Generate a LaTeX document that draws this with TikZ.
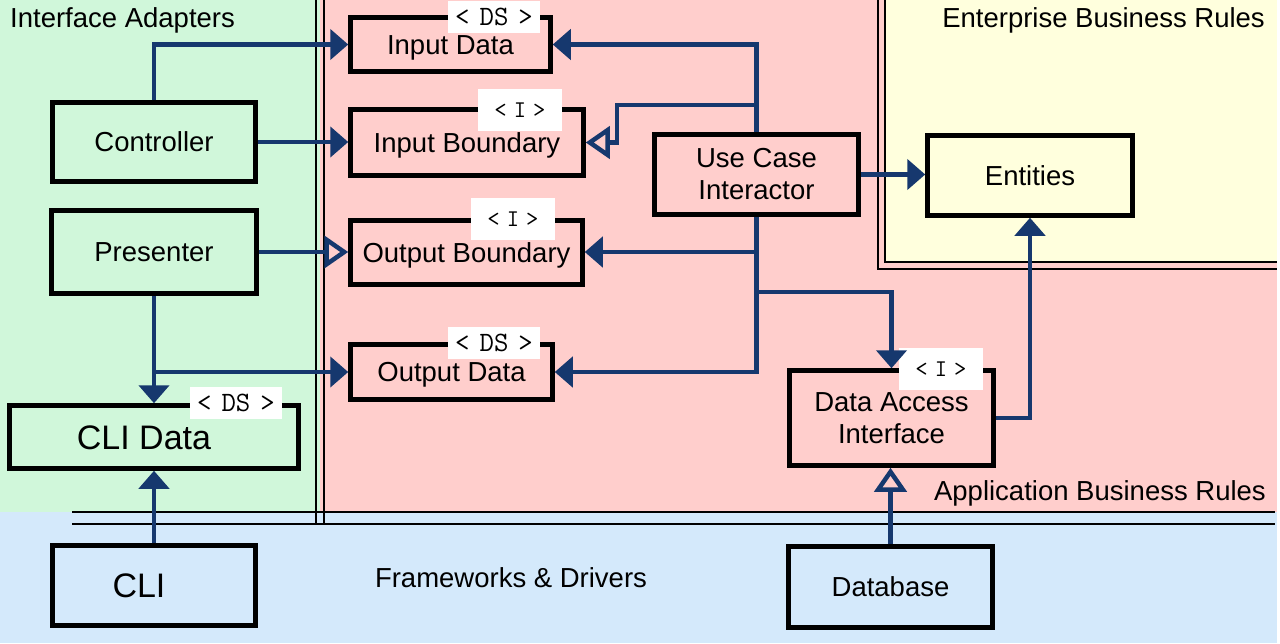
\documentclass[tikz,border=0pt]{standalone}
\usepackage{fontspec}
\setmainfont{Liberation Sans}
\usetikzlibrary{arrows.meta}
\definecolor{bggreen}{RGB}{208,247,218}
\definecolor{bgpink}{RGB}{255,206,204}
\definecolor{bgyellow}{RGB}{255,255,221}
\definecolor{bgblue}{RGB}{212,233,251}
\definecolor{navy}{RGB}{22,56,110}
\newcommand\myDSfont{\ttfamily\fontsize{28}{28}\selectfont\spaceskip10pt\relax}
\newcommand\myIfont{\ttfamily\fontsize{24}{24}\selectfont\spaceskip7pt\relax}
\tikzset{
  box/.style={draw=black, line width=4.5pt, rectangle, inner sep=0pt, align=center,
    font=\fontsize{27.5}{32}\selectfont},
  onebox/.style={box, text height=19.8pt, text depth=0pt},
  bigbox/.style={draw=black, line width=4.5pt, rectangle, inner sep=0pt,
    font=\fontsize{34}{38}\selectfont, text height=24.5pt, text depth=0pt},
  stereods/.style={fill=white, inner sep=0pt, minimum width=92pt, minimum height=32pt,
    font=\myDSfont},
  stereoi/.style={fill=white, inner sep=0pt, minimum width=84pt, minimum height=42pt,
    font=\myIfont},
  layerlabel/.style={font=\fontsize{27.5}{32}\selectfont, inner sep=0pt},
  sep/.style={draw=black, line width=2pt},
  conn/.style={draw=navy, line width=4.5pt, -{Triangle[length=18pt,width=30pt]}},
  openconn/.style={draw=navy, line width=4.5pt, -{Triangle[open,length=24pt,width=32pt]}}
}
\begin{document}
\begin{tikzpicture}[x=1pt, y=-1pt]
\useasboundingbox (0,0) rectangle (1280,643);
% backgrounds
\fill[white] (0,0) rectangle (1280,643);
\fill[bgblue] (0,512) rectangle (1277,643);
\fill[bggreen] (0,0) rectangle (320,512);
\fill[bgpink] (320,0) rectangle (1277,512);
\fill[bgyellow] (885,0) rectangle (1277,262);
% layer borders
\draw[sep] (316,0) -- (316,524);
\draw[sep] (324,0) -- (324,524);
\draw[sep] (72,512) -- (1275,512);
\draw[sep] (72,524) -- (1275,524);
\draw[sep] (878,0) -- (878,269) -- (1277,269);
\draw[sep] (885,0) -- (885,262) -- (1277,262);
% layer labels
\node[layerlabel, anchor=west] (lIA) at (10,20) {Interface Adapters};
\node[layerlabel, anchor=east] (lEBR) at (1265,20) {Enterprise Business Rules};
\node[layerlabel, anchor=east] (lABR) at (1266,493) {Application Business Rules};
\node[layerlabel] (lFD) at (511,578) {Frameworks \& Drivers};
% boxes
\node[onebox, minimum width=203pt, minimum height=79pt] (ctrl) at (154,142) {Controller};
\node[onebox, minimum width=205pt, minimum height=83pt] (pres) at (154,252) {Presenter};
\node[onebox, minimum width=200pt, minimum height=54pt] (indata) at (450.5,44.5) {Input Data};
\node[onebox, minimum width=233pt, minimum height=66pt] (inbound) at (467,142.5) {Input Boundary};
\node[onebox, minimum width=232pt, minimum height=64pt] (outbound) at (466.5,252.5) {Output Boundary};
\node[onebox, minimum width=202pt, minimum height=55pt] (outdata) at (451.5,372) {Output Data};
\node[box, minimum width=204pt, minimum height=80pt] (uci) at (756.5,174.5) {Use Case\\Interactor};
\node[onebox, minimum width=205pt, minimum height=80pt] (ent) at (1030,175.5) {Entities};
\node[box, minimum width=204pt, minimum height=95pt] (dai) at (891.5,418) {Data Access\\Interface};
\node[onebox, minimum width=204pt, minimum height=81pt] (db) at (890.5,587) {Database};
\node[bigbox, minimum width=289pt, minimum height=63pt] (clidata) at (154,437) {\hspace*{-20pt}CLI Data};
\node[bigbox, minimum width=203pt, minimum height=80pt] (cli) at (154,585.5) {\hspace*{-30pt}CLI};
% stereotype labels
\node[stereods] (sIndata) at (494,17) {< DS >};
\node[stereoi] (sInbound) at (520,110) {< I >};
\node[stereoi] (sOutbound) at (513,219) {< I >};
\node[stereods] (sOutdata) at (494,343) {< DS >};
\node[stereods] (sClidata) at (236,403) {< DS >};
\node[stereoi] (sDai) at (941,369) {< I >};
% junction coordinates
\coordinate (jIB) at (757,105);
\coordinate (kIB) at (617,105);
\coordinate (jOB) at (757,252);
\coordinate (jDA) at (757,292);
\coordinate (jOD) at (154,372);
% connectors
\draw[conn] (ctrl.north) |- (indata.west);
\draw[conn] (ctrl.east) -- (ctrl.east -| inbound.west);
\draw[conn] (uci.north) |- (indata.east);
\draw[openconn] (jIB) -- (kIB) |- (inbound.east);
\draw[conn] (uci.east) -- (uci.east -| ent.west);
\draw[conn] (uci.south) |- (outdata.east);
\draw[conn] (jOB) -- (jOB -| outbound.east);
\draw[conn] (jDA) -| (dai.north);
\draw[openconn] (pres.east) -- (pres.east -| outbound.west);
\draw[conn] (pres.south) -- (clidata.north);
\draw[conn] (jOD) -- (jOD -| outdata.west);
\draw[conn] (cli.north) -- (clidata.south);
\draw[openconn] (db.north) -- (db.north |- dai.south);
\draw[conn] (dai.east) -| (ent.south);
\end{tikzpicture}
\end{document}
